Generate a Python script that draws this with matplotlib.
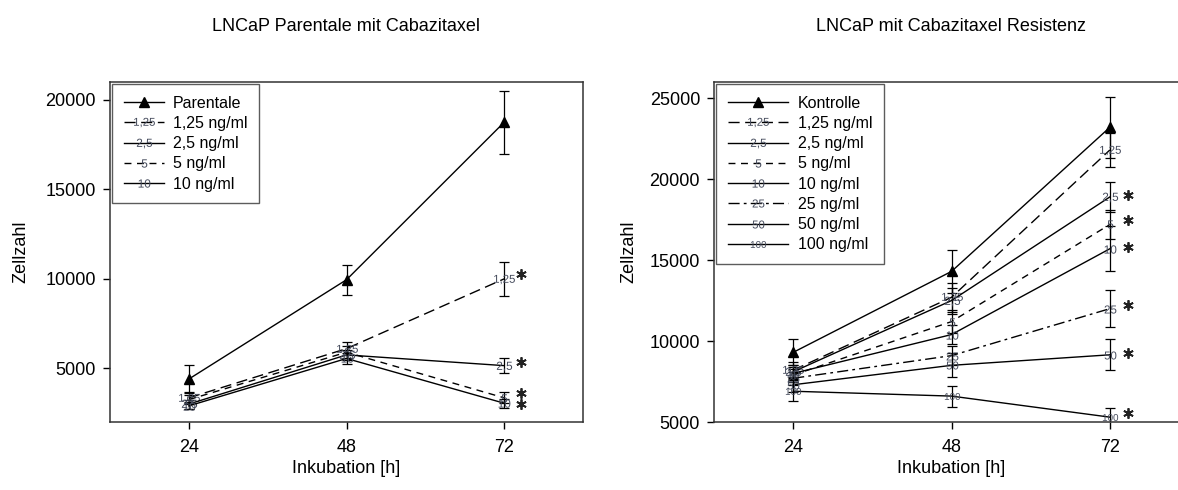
import matplotlib.pyplot as plt
from matplotlib.transforms import offset_copy

plt.rcParams['font.family'] = ['Liberation Sans', 'DejaVu Sans']
plt.rcParams['mathtext.fontset'] = 'custom'
plt.rcParams['mathtext.rm'] = 'Liberation Sans'

hours = [24, 48, 72]

# LNCaP parental cells
par_ctrl = [4400, 9950, 18750]
par_ctrl_err = [800, 850, 1750]
par_125 = [3350, 6100, 10000]
par_125_err = [300, 350, 950]
par_25 = [3000, 5750, 5150]
par_25_err = [250, 300, 400]
par_5 = [3250, 5900, 3350]
par_5_err = [250, 350, 300]
par_10 = [2900, 5550, 3050]
par_10_err = [200, 300, 250]

# LNCaP cabazitaxel-resistant cells
res_ctrl = [9300, 14300, 23200]
res_ctrl_err = [800, 1350, 1900]
res_125 = [8200, 12700, 21800]
res_125_err = [500, 900, 1050]
res_25 = [8100, 12500, 18900]
res_25_err = [450, 800, 900]
res_5 = [7900, 11200, 17200]
res_5_err = [400, 700, 900]
res_10 = [8000, 10400, 15700]
res_10_err = [400, 600, 1400]
res_25ng = [7700, 9100, 12000]
res_25ng_err = [400, 600, 1150]
res_50 = [7300, 8500, 9150]
res_50_err = [450, 750, 950]
res_100 = [6900, 6600, 5300]
res_100_err = [600, 650, 550]

TAG_COLOR = '#454b5c'
LONG_DASH = (0, (8, 4))
MED_DASH = (0, (5, 4))
DASH_DOT = (0, (8, 3, 2, 3))


def draw_panel(ax, series, legend_len, star_dx):
    for name, tag, y, err, ls, ms, star in series:
        ax.errorbar(hours, y, yerr=err, fmt='none', ecolor='black',
                    elinewidth=0.9, capsize=3.8, capthick=0.9, zorder=2)
        if tag is None:
            ax.plot(hours, y, color='black', lw=1.0, ls=ls, marker='^',
                    ms=7, label=name, zorder=3)
        else:
            ax.plot(hours, y, color='black', lw=1.0, ls=ls,
                    marker=r'$\mathregular{' + tag + '}$', ms=ms,
                    mfc=TAG_COLOR, mec=TAG_COLOR, mew=0, label=name, zorder=3)
        if star is not None:
            # significance asterisk to the right of the 72 h point
            tr = offset_copy(ax.transData, fig=ax.figure, x=star_dx, y=star,
                             units='points')
            ax.plot([hours[-1]], [y[-1]], transform=tr, ls='none',
                    marker=(6, 2, 0), ms=7.5, mew=1.3, color='#222222',
                    clip_on=False, zorder=4)
    ax.set_xlim(12, 84)
    ax.set_xticks(hours)
    ax.set_xlabel('Inkubation [h]', fontsize=13, labelpad=3)
    ax.set_ylabel('Zellzahl', fontsize=13)
    ax.tick_params(direction='out', length=5, width=1, labelsize=13,
                   top=False, right=False, pad=5)
    ax.tick_params(axis='x', pad=7)
    for sp in ax.spines.values():
        sp.set_linewidth(1.1)
        sp.set_color('#333333')
    leg = ax.legend(loc='upper left', bbox_to_anchor=(0, 1),
                    borderaxespad=0.15, fontsize=11.5, frameon=True,
                    fancybox=False, edgecolor='#333333',
                    handlelength=legend_len, handletextpad=0.6,
                    labelspacing=0.33, borderpad=0.7)
    leg.get_frame().set_linewidth(1.0)


fig = plt.figure(figsize=(11.78, 4.9), dpi=100)
ax1 = fig.add_axes([110 / 1178, 68 / 490, 473 / 1178, 340 / 490])
ax2 = fig.add_axes([714 / 1178, 68 / 490, 475 / 1178, 340 / 490])

left_series = [
    ('Parentale', None, par_ctrl, par_ctrl_err, '-', 0, None),
    ('1,25 ng/ml', '1{,}25', par_125, par_125_err, LONG_DASH, 15, 3.2),
    ('2,5 ng/ml', '2{,}5', par_25, par_25_err, '-', 11, 2.5),
    ('5 ng/ml', '5', par_5, par_5_err, MED_DASH, 6, 3.2),
    ('10 ng/ml', '10', par_10, par_10_err, '-', 8.5, -0.5),
]
draw_panel(ax1, left_series, 2.5, 12.2)
ax1.set_ylim(2000, 21000)
ax1.set_yticks([5000, 10000, 15000, 20000])
ax1.yaxis.labelpad = 12
ax1.set_title('LNCaP Parentale mit Cabazitaxel', fontsize=13, pad=37)

right_series = [
    ('Kontrolle', None, res_ctrl, res_ctrl_err, '-', 0, None),
    ('1,25 ng/ml', '1{,}25', res_125, res_125_err, LONG_DASH, 15, None),
    ('2,5 ng/ml', '2{,}5', res_25, res_25_err, '-', 11, 1.5),
    ('5 ng/ml', '5', res_5, res_5_err, MED_DASH, 6, 3.5),
    ('10 ng/ml', '10', res_10, res_10_err, '-', 8.5, 1.5),
    ('25 ng/ml', '25', res_25ng, res_25ng_err, DASH_DOT, 8.5, 3),
    ('50 ng/ml', '50', res_50, res_50_err, '-', 8.5, 1.5),
    ('100 ng/ml', '100', res_100, res_100_err, '-', 11, 3),
]
draw_panel(ax2, right_series, 3.8, 13)
ax2.set_ylim(5000, 26000)
ax2.set_yticks([5000, 10000, 15000, 20000, 25000])
ax2.yaxis.labelpad = 9
ax2.set_title('LNCaP mit Cabazitaxel Resistenz', fontsize=13, pad=37)

fig.savefig('out.png', dpi=100)
